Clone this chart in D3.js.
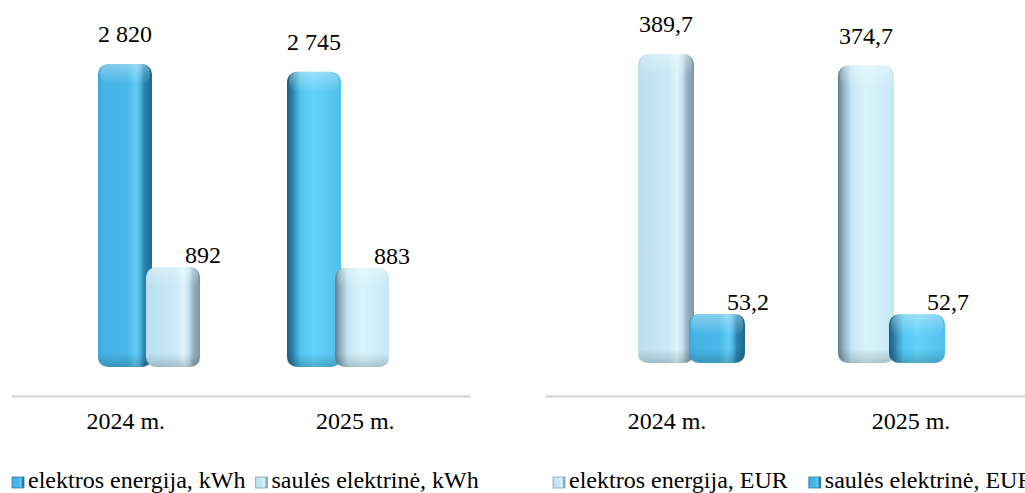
<!DOCTYPE html>
<html>
<head>
<meta charset="utf-8">
<script src="https://cdn.jsdelivr.net/npm/d3@7"></script>
<style>
  body { margin: 0; background: #fff; }
  svg { display: block; overflow: hidden; }
</style>
</head>
<body>
<div id="main"></div>
<script>
// Data
const years = ['2024 m.', '2025 m.'];

const kwhSeries = ['elektros energija, kWh', 'saulės elektrinė, kWh'];
const kwhElektros = [2820, 2745];
const kwhSaules = [892, 883];

const eurSeries = ['elektros energija, EUR', 'saulės elektrinė, EUR'];
const eurElektros = [389.7, 374.7];
const eurSaules = [53.2, 52.7];

// Lithuanian number format: space for thousands, comma for decimals
const lt = d3.formatLocale({ decimal: ',', thousands: '\u00a0', grouping: [3], currency: ['', ''] });

const FONT = 'Liberation Serif';

const w = 1025;
const h = 493;

let general = d3.select('#main')
    .append('svg')
    .attr('width', w)
    .attr('height', h);

const defs = general.append('defs');

// horizontal gradients, side = which side of the bar is shaded by the 3D view
const gradients = {
    blueR: [[0, '#3aa6da'], [0.08, '#46b2e4'], [0.55, '#49b7e9'], [0.7, '#62cdf6'], [0.78, '#4db7e6'], [0.85, '#2b86b2'], [1, '#1d6a8f']],
    blueL: [[0, '#1a5c7e'], [0.1, '#2b82ab'], [0.25, '#52c4f0'], [0.5, '#63d2fa'], [1, '#50bfee']],
    lightR: [[0, '#bcdff0'], [0.55, '#c8e9f7'], [0.7, '#def5fd'], [0.8, '#c2dfec'], [0.87, '#98b5c4'], [1, '#7b96a6']],
    lightL: [[0, '#5f7d8c'], [0.1, '#8fb2c2'], [0.24, '#c4e6f4'], [0.5, '#d9f4fc'], [1, '#c6e8f6']]
};

Object.entries(gradients).forEach(([id, stops]) => {
    const g = defs.append('linearGradient').attr('id', id).attr('x1', 0).attr('x2', 1).attr('y1', 0).attr('y2', 0);
    stops.forEach((s) => g.append('stop').attr('offset', s[0]).attr('stop-color', s[1]));
});

const capGrad = defs.append('linearGradient').attr('id', 'cap').attr('x1', 0).attr('x2', 0).attr('y1', 0).attr('y2', 1);
capGrad.append('stop').attr('offset', 0).attr('stop-color', '#fff').attr('stop-opacity', 0.35);
capGrad.append('stop').attr('offset', 1).attr('stop-color', '#fff').attr('stop-opacity', 0);

const bottomGrad = defs.append('linearGradient').attr('id', 'bottom').attr('x1', 0).attr('x2', 0).attr('y1', 0).attr('y2', 1);
bottomGrad.append('stop').attr('offset', 0).attr('stop-color', '#000').attr('stop-opacity', 0);
bottomGrad.append('stop').attr('offset', 1).attr('stop-color', '#000').attr('stop-opacity', 0.18);

function styleText(sel) {
    return sel.attr('font-family', FONT).attr('font-size', 24).attr('fill', '#000');
}

function drawPanel(opt) {
    const panel = general.append('g');

    // outer scale: category axis at the front
    const xAxisScale = d3.scaleBand().domain(years).range(opt.axisRange);
    // inner scale: where the bars stand (further back in the 3D view)
    const xBar = d3.scaleBand().domain(years).range(opt.barRange);
    const x1 = d3.scaleBand().domain(opt.series).range([0, opt.barW * 2]);
    const y = d3.scaleLinear().domain([0, opt.max]).range([opt.base, opt.top]);

    const mid = (opt.axisRange[0] + opt.axisRange[1]) / 2;

    const rows = [];
    years.forEach((yr, i) => {
        opt.series.forEach((s, j) => {
            const x = xBar(yr) + xBar.bandwidth() / 2 - opt.barW + x1(s);
            rows.push({ yr: yr, s: s, j: j, v: opt.values[j][i], x: x, kind: opt.kinds[j] });
        });
    });

    const bw = opt.barW + opt.depth;

    const bars = panel.selectAll('g.bar')
        .data(rows)
        .enter()
        .append('g')
        .attr('class', 'bar');

    bars.append('rect')
        .attr('x', (d) => d.x)
        .attr('y', (d) => y(d.v) - opt.cap)
        .attr('width', bw)
        .attr('height', (d) => opt.base - y(d.v) + opt.cap)
        .attr('rx', 10)
        .attr('ry', 10)
        .style('fill', (d) => `url(#${d.kind}${d.x + bw / 2 < mid ? 'R' : 'L'})`);

    // light top cap
    bars.append('rect')
        .attr('x', (d) => d.x + 2)
        .attr('y', (d) => y(d.v) - opt.cap)
        .attr('width', bw - 4)
        .attr('height', opt.cap + 14)
        .attr('rx', 9)
        .style('fill', 'url(#cap)');

    // darker foot
    bars.append('rect')
        .attr('x', (d) => d.x)
        .attr('y', opt.base - 14)
        .attr('width', bw)
        .attr('height', 14)
        .attr('rx', 10)
        .style('fill', 'url(#bottom)');

    // value labels
    panel.selectAll('text.value')
        .data(rows)
        .enter()
        .append('text')
        .attr('class', 'value')
        .attr('text-anchor', 'middle')
        .attr('x', (d) => d.j == 0 ? d.x + bw / 2 : d.x + bw + 3)
        .attr('y', (d) => d.j == 0 ? y(d.v) - opt.cap - 22 : y(d.v) - opt.cap - 4)
        .text((d) => opt.fmt(d.v))
        .call(styleText);

    // category axis
    const xAxis = d3.axisBottom(xAxisScale).tickSize(0).tickSizeOuter(0).tickPadding(16);
    const ax = panel.append('g').attr('transform', `translate(0, ${opt.axisY})`).call(xAxis);
    ax.attr('font-family', FONT).attr('font-size', 24);
    ax.select('.domain').attr('stroke', '#d9d9d9').attr('stroke-width', 2.5);
    ax.selectAll('text').call(styleText);

    // legend
    let lx = opt.legendX;
    opt.series.forEach((s, j) => {
        const item = panel.append('g');
        item.append('rect')
            .attr('x', lx)
            .attr('y', opt.legendY - 11)
            .attr('width', 12)
            .attr('height', 11)
            .style('fill', `url(#${opt.kinds[j]}R)`)
            .style('stroke', opt.kinds[j] == 'blue' ? '#2b7ea8' : '#8aa6b5')
            .style('stroke-width', 0.8);
        const t = item.append('text')
            .attr('x', lx + 16)
            .attr('y', opt.legendY)
            .text(s)
            .call(styleText);
        lx = lx + 16 + t.node().getComputedTextLength() + opt.legendGap;
    });
}

drawPanel({
    series: kwhSeries,
    values: [kwhElektros, kwhSaules],
    kinds: ['blue', 'light'],
    axisRange: [11, 470],
    barRange: [51.5, 429.5],
    barW: 48,
    depth: 6,
    cap: 6,
    max: 3000,
    base: 367,
    top: 51,
    axisY: 396,
    legendX: 12,
    legendY: 488,
    legendGap: 10,
    fmt: lt.format(',.0f')
});

drawPanel({
    series: eurSeries,
    values: [eurElektros, eurSaules],
    kinds: ['light', 'blue'],
    axisRange: [545, 1033],
    barRange: [589, 989],
    barW: 51,
    depth: 5,
    cap: 8,
    max: 400,
    base: 363,
    top: 54,
    axisY: 396,
    legendX: 553,
    legendY: 488,
    legendGap: 21,
    fmt: lt.format(',.1f')
});
</script>
</body>
</html>
